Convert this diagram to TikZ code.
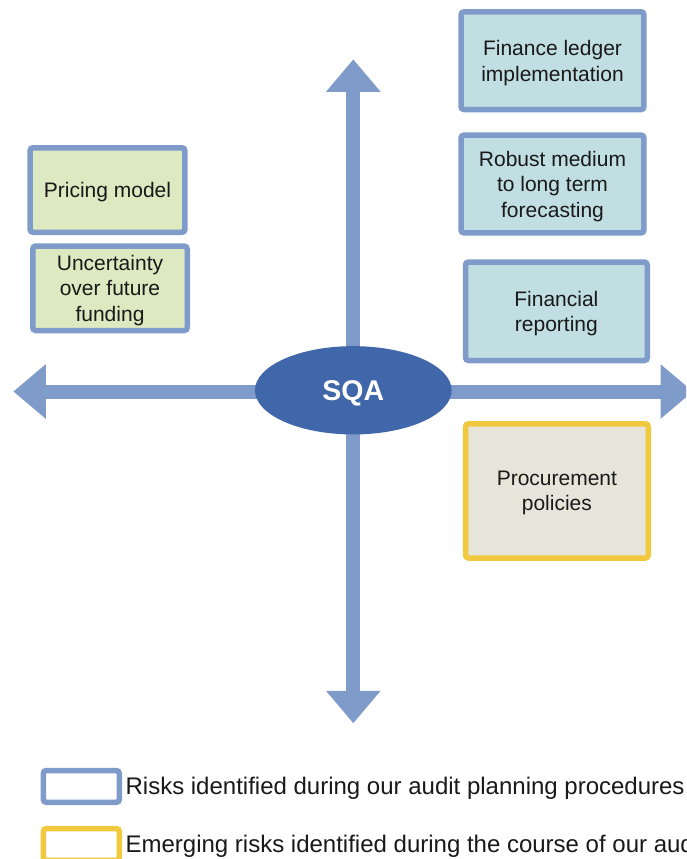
\documentclass[tikz,border=0pt]{standalone}
\usepackage{fontspec}
\setmainfont{Liberation Sans}
\usepackage{xcolor}
\definecolor{axisblue}{RGB}{127, 155, 201}
\definecolor{hubblue}{RGB}{64, 103, 169}
\definecolor{leafgreen}{RGB}{221, 233, 193}
\definecolor{paleteal}{RGB}{193, 222, 227}
\definecolor{stonegrey}{RGB}{231, 229, 218}
\definecolor{riskyellow}{RGB}{242, 200, 62}
\usepackage{tikz}
\usetikzlibrary{arrows.meta, shapes.geometric}

\begin{document}
\begin{tikzpicture}[x=1pt, y=-1pt,
    axis/.style={line width=14pt, axisblue, -{Triangle[width=52.5pt, length=32.5pt]}},
    riskbox/.style={draw=axisblue, line width=5.5pt, rounded corners=3pt, align=center,
        inner sep=0pt, text depth=0pt, text=black!90, font=\fontsize{21}{25.5}\selectfont},
    keybox/.style={draw=#1, line width=5.5pt, rounded corners=3pt, fill=white,
        minimum width=76pt, minimum height=31.8pt},
    keytext/.style={anchor=west, inner sep=0pt, text=black!90, font=\fontsize{24}{28}\selectfont}]
    \useasboundingbox (0,0) rectangle (686,859);
    \clip (0,0) rectangle (686,859);
    \coordinate (hub) at (353.3,391.5);
    \coordinate (west) at (13.3,391.5);
    \coordinate (east) at (693,391.5);
    \coordinate (north) at (353.3,59.3);
    \coordinate (south) at (353.3,723.3);
    \foreach \tip in {west, east, north, south}
        \draw[axis] (hub) -- (\tip);
    \node[ellipse, fill=hubblue, minimum width=196.7pt, minimum height=88.3pt, inner sep=0pt,
        text depth=0pt, text=white, font=\fontsize{28.5}{30}\selectfont\bfseries] (sqa) at (353.3,390.3) {SQA};

    \node[riskbox, fill=paleteal, minimum width=182.9pt, minimum height=97.8pt] (ledger) at (552.5,60.7) {Finance ledger\\implementation};
    \node[riskbox, fill=paleteal, minimum width=182.9pt, minimum height=97.9pt] (forecast) at (552.5,184) {Robust medium\\to long term\\forecasting};
    \node[riskbox, fill=paleteal, minimum width=181.8pt, minimum height=98.5pt] (reporting) at (556.4,311.3) {Financial\\reporting};
    \node[riskbox, draw=riskyellow, fill=stonegrey, minimum width=182.8pt, minimum height=134.2pt] (procure) at (556.9,490.9) {Procurement\\policies};
    \node[riskbox, fill=leafgreen, minimum width=154.9pt, minimum height=84.5pt] (pricing) at (107.5,190) {Pricing model};
    \node[riskbox, fill=leafgreen, minimum width=154.5pt, minimum height=84.5pt] (funding) at (110,288.3) {Uncertainty\\over future\\funding};

    \node[keybox=axisblue] (keyplan) at (81.3,786.4) {};
    \node[keybox=riskyellow] (keyemerge) at (81.3,844.4) {};
    \node[keytext] (planlabel) at (125.4,788.4) {Risks identified during our audit planning procedures};
    \node[keytext] (emergelabel) at (125.4,846.4) {Emerging risks identified during the course of our audit};
\end{tikzpicture}
\end{document}
